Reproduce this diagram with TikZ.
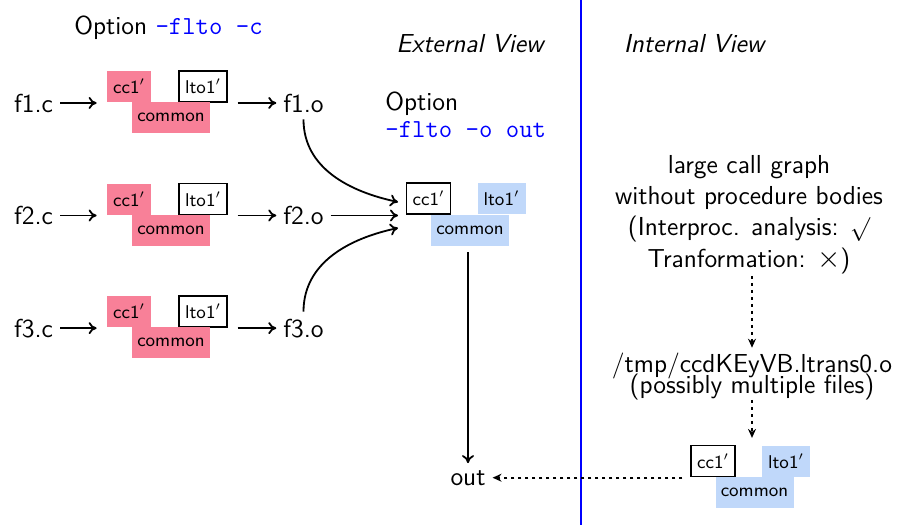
\documentclass[tikz,border=0pt]{standalone}
\usepackage{xcolor}
\usetikzlibrary{arrows.meta}
\definecolor{ccpink}{RGB}{248,128,152}
\definecolor{ltoblue}{RGB}{192,216,250}
\tikzset{
  txt/.style={font=\fontsize{13}{15.6}\selectfont\sffamily},
  sbox/.style={inner sep=0pt, minimum height=15.5pt,
    font=\fontsize{9.25}{11}\selectfont\sffamily},
  pinkbox/.style={sbox, fill=ccpink},
  bluebox/.style={sbox, fill=ltoblue},
  framebox/.style={sbox, draw=black, fill=white, line width=0.6pt},
  arr/.style={-{To[length=4pt,width=6pt]}, line width=0.9pt},
  dotarr/.style={-{Stealth[length=4.5pt,width=4pt]}, line width=0.9pt,
    dash pattern=on 1.7pt off 1.8pt},
}
\begin{document}
\begin{tikzpicture}[x=0.5pt, y=-0.5pt]
\useasboundingbox (0,0) rectangle (901,525);

% headings
\node[txt, anchor=base] (optc) at (168.5,34)
  {Option \textcolor{blue}{\ttfamily -flto -c}};
\node[txt, anchor=base, font=\fontsize{13}{15.6}\selectfont\sffamily\itshape]
  (ext) at (470,52) {External View};
\node[txt, anchor=base, font=\fontsize{13}{15.6}\selectfont\sffamily\itshape]
  (int) at (694,52) {Internal View};
\node[txt, anchor=base west, inner sep=0pt] (optA) at (385,110) {Option};
\node[txt, anchor=base west, inner sep=0pt] (optB) at (385,137)
  {\textcolor{blue}{\ttfamily -flto -o out}};

% divider between the two views
\coordinate (divtop) at (581,0);
\coordinate (divbot) at (581,525);
\draw[blue, line width=0.85pt] (divtop) -- (divbot);

% separate compilation of each source file
\foreach \i/\y in {1/0, 2/112.5, 3/225} {
  \node[txt, anchor=base] (src\i) at (33.5,{112+\y}) {f\i.c};
  \node[pinkbox, minimum width=22pt] (cc\i) at (129,{86.5+\y}) {cc1$'$};
  \node[framebox, minimum width=24pt] (lto\i) at (203,{86.5+\y}) {lto1$'$};
  \node[pinkbox, minimum width=39pt] (com\i) at (171,{117.5+\y}) {common};
  \node[txt, anchor=base] (obj\i) at (303.5,{112+\y}) {f\i.o};
  \draw[arr, shorten >=5pt] (src\i.east) -- (src\i.east -| cc\i.west);
  \draw[arr, shorten <=5pt] (lto\i.east |- obj\i.west) -- (obj\i.west);
}

% link step
\node[framebox, minimum width=22pt] (ccM) at (428.5,198.5) {cc1$'$};
\node[bluebox, minimum width=24pt] (ltoM) at (501.5,198.5) {lto1$'$};
\node[bluebox, minimum width=39pt] (comM) at (470,230.5) {common};
\coordinate (inA) at (398,202);
\coordinate (inC) at (398,228);
\draw[arr] (obj1.south) to[out=-90, in=168] (inA);
\draw[arr] (obj2.east) -- (obj2.east -| inA);
\draw[arr] (obj3.north) to[out=90, in=192] (inC);

\node[txt, anchor=base] (out) at (468,485) {out};
\draw[arr, shorten <=3pt] (out.north |- comM.south) -- (out.north);

% internal view
\node[txt, align=center, inner sep=0pt, anchor=north] (cg) at (749,155)
  {large call graph\\without procedure bodies\\
   (Interproc. analysis: $\surd$\\
   Tranformation: \scalebox{1.25}{$\times$})};
\node[txt, anchor=base, inner sep=0pt] (tmpA) at (752,372)
  {/tmp/ccdKEyVB.ltrans0.o};
\node[txt, anchor=base, inner sep=0pt] (tmpB) at (752,393)
  {(possibly multiple files)};

\node[framebox, minimum width=22pt] (ccR) at (713,461) {cc1$'$};
\node[bluebox, minimum width=24pt] (ltoR) at (786,461.5) {lto1$'$};
\node[bluebox, minimum width=39pt] (comR) at (754.5,492) {common};

\draw[dotarr, shorten <=1pt, shorten >=2.2pt] (tmpA.north |- cg.south) -- (tmpA.north);
\draw[dotarr, shorten >=3.5pt] (tmpB.south) -- (tmpB.south |- ccR.north);
\draw[dotarr, shorten <=4pt] (ccR.west |- out.east) -- (out.east);
\end{tikzpicture}
\end{document}
